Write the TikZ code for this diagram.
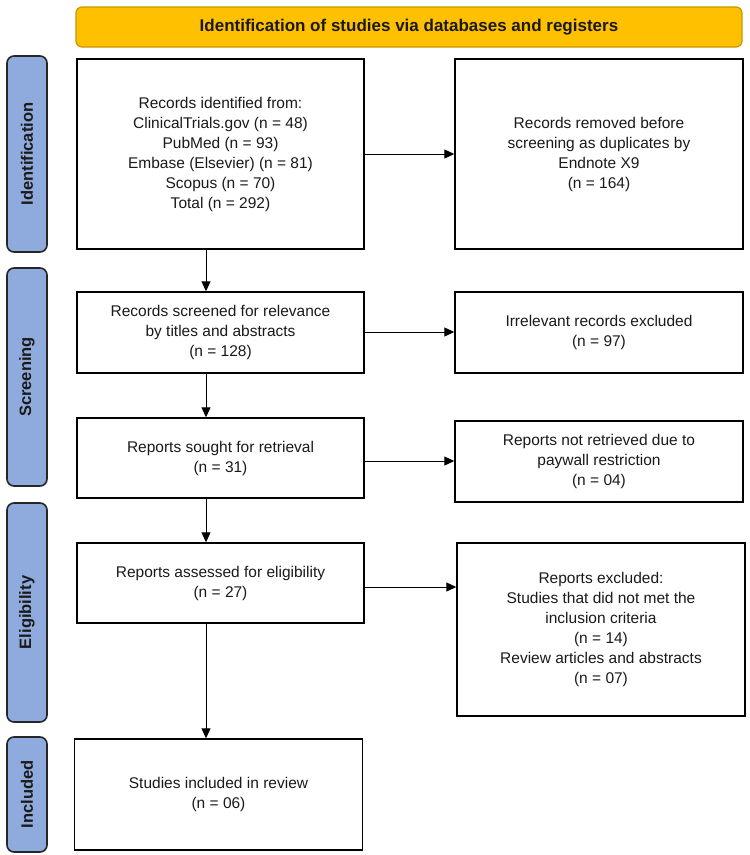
\documentclass[tikz,border=0pt]{standalone}
\usepackage{fontspec}
\setmainfont{Liberation Sans}
\usetikzlibrary{arrows.meta}
\definecolor{hdrfill}{HTML}{FFC000}
\definecolor{hdrdraw}{HTML}{C99700}
\definecolor{lblfill}{HTML}{8FAADC}
\definecolor{txt}{HTML}{1A1A1A}
\tikzset{
  box/.style={draw=black, line width=1.4pt, fill=white, align=center, text=txt,
    font=\fontsize{15.5}{20}\selectfont, inner sep=2pt},
  stagelbl/.style={draw=black!85, line width=1.6pt, fill=lblfill, rounded corners=7pt,
    rotate=90, minimum height=40pt, font=\fontsize{16.5}{20}\selectfont\bfseries, text=txt, inner sep=0pt},
  hdr/.style={draw=hdrdraw, line width=1.2pt, fill=hdrfill, rounded corners=6pt,
    font=\fontsize{17}{20}\selectfont\bfseries, text=txt, inner sep=0pt},
  arr/.style={line width=1pt, black, -{Triangle[length=10pt,width=9pt]}}
}
\begin{document}
\begin{tikzpicture}[x=1pt,y=-1pt]
\useasboundingbox (0,0) rectangle (750,855);
% header
\node[hdr, minimum width=666pt, minimum height=40pt] (H) at (409,27) {Identification of studies via databases and registers};
% stage labels
\node[stagelbl, minimum width=196pt] (L1) at (27,154) {Identification};
\node[stagelbl, minimum width=218pt] (L2) at (27,377) {Screening};
\node[stagelbl, minimum width=219pt] (L3) at (27,612.5) {Eligibility};
\node[stagelbl, minimum width=115pt] (L4) at (27,794.5) {Included};
% left column
\node[box, minimum width=287pt, minimum height=190pt] (B1) at (220.5,154) {Records identified from:\\ClinicalTrials.gov (n = 48)\\PubMed (n = 93)\\Embase (Elsevier) (n = 81)\\Scopus (n = 70)\\Total (n = 292)};
\node[box, minimum width=287pt, minimum height=81pt] (B2) at (220.5,332.5) {Records screened for relevance\\by titles and abstracts\\(n = 128)};
\node[box, minimum width=287pt, minimum height=80pt] (B3) at (220.5,458) {Reports sought for retrieval\\(n = 31)};
\node[box, minimum width=287pt, minimum height=80pt] (B4) at (220.5,583) {Reports assessed for eligibility\\(n = 27)};
\node[box, minimum width=288pt, minimum height=111pt] (B5) at (218.5,794.5) {Studies included in review\\(n = 06)};
% right column
\node[box, minimum width=288pt, minimum height=190pt] (R1) at (599,154) {Records removed before\\screening as duplicates by\\Endnote X9\\(n = 164)};
\node[box, minimum width=288pt, minimum height=81pt] (R2) at (599,332.5) {Irrelevant records excluded\\(n = 97)};
\node[box, minimum width=288pt, minimum height=81pt] (R3) at (599,461.5) {Reports not retrieved due to\\paywall restriction\\(n = 04)};
\node[box, minimum width=288pt, minimum height=173pt] (R4) at (601,629.5) {Reports excluded:\\Studies that did not met the\\inclusion criteria\\(n = 14)\\Review articles and abstracts\\(n = 07)};
% vertical arrows
\draw[arr] (B1.south -| 206,0) -- (B2.north -| 206,0);
\draw[arr] (B2.south -| 206,0) -- (B3.north -| 206,0);
\draw[arr] (B3.south -| 206,0) -- (B4.north -| 206,0);
\draw[arr] (B4.south -| 206,0) -- (B5.north -| 206,0);
% horizontal arrows
\draw[arr] (B1.east |- 0,154) -- (R1.west |- 0,154);
\draw[arr] (B2.east |- 0,332) -- (R2.west |- 0,332);
\draw[arr] (B3.east |- 0,461) -- (R3.west |- 0,461);
\draw[arr] (B4.east |- 0,587) -- (R4.west |- 0,587);
\end{tikzpicture}
\end{document}
